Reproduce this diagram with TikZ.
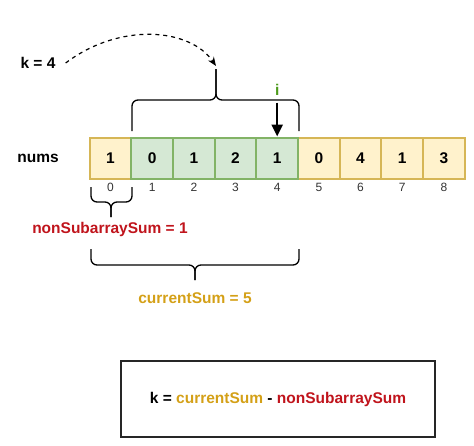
\documentclass[tikz,border=0pt]{standalone}
\usepackage{fontspec}
\setmainfont{Liberation Sans}
\usetikzlibrary{arrows.meta}
\definecolor{yfill}{HTML}{FFF2CC}
\definecolor{ydraw}{HTML}{D6B656}
\definecolor{gfill}{HTML}{D5E8D4}
\definecolor{gdraw}{HTML}{82B366}
\definecolor{redtxt}{HTML}{C0141C}
\definecolor{goldtxt}{HTML}{D4A017}
\definecolor{greentxt}{HTML}{4D9A1B}
\definecolor{idxtxt}{HTML}{333333}
\tikzset{
  cellbox/.style={draw, line width=2pt, minimum width=41.67pt, minimum height=41pt, inner sep=0pt, font=\fontsize{15.5}{18}\selectfont\bfseries},
  ycell/.style={cellbox, fill=yfill, draw=ydraw},
  gcell/.style={cellbox, fill=gfill, draw=gdraw},
  idx/.style={inner sep=0pt, text=idxtxt, font=\fontsize{12}{14}\selectfont},
  lbl/.style={inner sep=0pt, font=\fontsize{15.5}{18}\selectfont\bfseries},
  brace/.style={line width=1.3pt, rounded corners=6pt},
}
\begin{document}
\begin{tikzpicture}[x=1pt,y=-1pt]
\useasboundingbox (0,0) rectangle (474,445);
% cells
\foreach \v/\s [count=\i from 0] in {1/ycell,0/gcell,1/gcell,2/gcell,1/gcell,0/ycell,4/ycell,1/ycell,3/ycell}{
  \node[\s] (c\i) at ({110.5+\i*41.67},158) {\v};
  \node[idx] (n\i) at ({110.5+\i*41.67},187) {\i};
}
% redraw green cells on top so their borders show
\foreach \v [count=\i from 1] in {0,1,2,1}{
  \node[gcell] at ({110.5+\i*41.67},158) {\v};
}
\node[lbl] (nums) at (38,158) {nums};
\node[lbl] (k4) at (38,63) {k = 4};
\node[lbl, text=greentxt] (inode) at ([yshift=68pt]c4.center) {i};
% top brace
\coordinate (tb) at (216,69);
\draw[brace] (132,131) -- (132,100) -- (216,100) -- (tb);
\draw[brace] (299,131) -- (299,100) -- (216,100) -- (tb);
% dashed arrow
\draw[line width=1.2pt, dash pattern=on 4pt off 4pt, -{Stealth[length=9pt,width=7pt]}]
  (k4.east) ++(10,0) .. controls (120,22) and (190,28) .. ([yshift=3pt]tb);
% i arrow
\draw[line width=2.6pt, -{Triangle[length=12pt,width=11pt]}] ([yshift=34pt]c4.north) -- (c4.north);
% small brace
\coordinate (sb) at (111,217);
\draw[brace] (91,187) -- (91,202) -- (111,202) -- (sb);
\draw[brace] (132,187) -- (132,202) -- (111,202) -- (sb);
\node[lbl, text=redtxt] (nsum) at (110,229) {nonSubarraySum = 1};
% large brace
\coordinate (lb) at (195,280);
\draw[brace] (91,249) -- (91,265) -- (195,265) -- (lb);
\draw[brace] (299,249) -- (299,265) -- (195,265) -- (lb);
\node[lbl, text=goldtxt] (csum) at (195,298) {currentSum = 5};
% formula box
\node[draw=black!85, line width=1.5pt, minimum width=314pt, minimum height=76pt, inner sep=0pt, font=\fontsize{15.5}{18}\selectfont\bfseries] (box) at (278,399)
  {k = \textcolor{goldtxt}{currentSum} - \textcolor{redtxt}{nonSubarraySum}};
\end{tikzpicture}
\end{document}
